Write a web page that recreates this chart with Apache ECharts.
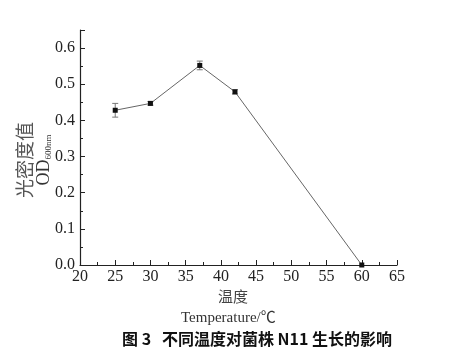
<!DOCTYPE html>
<html><head><meta charset="utf-8">
<script src="https://cdn.jsdelivr.net/npm/echarts@6/dist/echarts.min.js"></script>
<style>html,body{margin:0;padding:0;background:#fff}#c{width:455px;height:354px}</style>
</head><body><div id="c"></div>
<script>
var temperatures = [25, 30, 37, 42, 60];
var odValues = [0.428, 0.447, 0.552, 0.479, 0.0];
var odErrors = [0.019, 0.005, 0.012, 0.006, 0.0];
var xTicks = [20, 25, 30, 35, 40, 45, 50, 55, 60, 65];
var yTicks = [0.0, 0.1, 0.2, 0.3, 0.4, 0.5, 0.6];

var serif = '"Liberation Serif","Times New Roman","Noto Sans CJK SC",serif';
var chart = echarts.init(document.getElementById('c'));
var lineData = temperatures.map(function(t, i){ return [t, odValues[i]]; });
var errData = temperatures.map(function(t, i){ return [t, odValues[i] - odErrors[i], odValues[i] + odErrors[i]]; });

chart.setOption({
  animation: false,
  grid: {left: 80, right: 58, top: 30, bottom: 89},
  xAxis: {
    type: 'value', min: 20, max: 65, interval: 5,
    axisLine: {show: true, onZero: false, lineStyle: {color: '#222', width: 1.2}},
    axisTick: {show: true, inside: true, length: 5, lineStyle: {color: '#222'}},
    minorTick: {show: true, splitNumber: 2, length: 3, lineStyle: {color: '#222'}},
    splitLine: {show: false},
    axisLabel: {color: '#222', fontFamily: serif, fontSize: 16, margin: 4,
      formatter: function(v){ return xTicks.indexOf(v) >= 0 ? String(v) : ''; }}
  },
  yAxis: {
    type: 'value', min: 0, max: 0.65, interval: 0.1,
    axisLine: {show: true, lineStyle: {color: '#222', width: 1.2}},
    axisTick: {show: true, inside: true, length: 5, lineStyle: {color: '#222'}},
    minorTick: {show: true, splitNumber: 2, length: 3, lineStyle: {color: '#222'}},
    splitLine: {show: false},
    axisLabel: {color: '#222', fontFamily: serif, fontSize: 16, margin: 5,
      formatter: function(v){
        for (var i = 0; i < yTicks.length; i++) if (Math.abs(yTicks[i] - v) < 1e-9) return yTicks[i].toFixed(1);
        return '';
      }}
  },
  graphic: [
    {type: 'text', left: 218, top: 289, style: {text: '温度', font: '15px "Noto Sans CJK SC",serif', fill: '#444'}},
    {type: 'text', left: 181, top: 311, style: {text: 'Temperature/℃', font: '15px ' + serif, fill: '#333'}},
    {type: 'text', left: 122, top: 331, style: {text: '图 3   不同温度对菌株 N11 生长的影响', font: 'bold 16px "Noto Sans CJK SC",sans-serif', fill: '#111'}},
    {type: 'text', x: 25, y: 160, rotation: Math.PI / 2,
      style: {text: '光密度值', font: '19px "Noto Sans CJK SC",serif', fill: '#555', align: 'center', verticalAlign: 'middle'}},
    {type: 'text', x: 44, y: 160, rotation: Math.PI / 2,
      style: {text: '{a|OD}{b|600nm}', align: 'center', verticalAlign: 'middle',
        rich: {a: {font: '18px ' + serif, fill: '#333'}, b: {font: '9px ' + serif, fill: '#333', padding: [9, 0, 0, 0]}}}}
  ],
  series: [
    {
      type: 'line', data: lineData, symbol: 'rect', symbolSize: 5,
      lineStyle: {color: '#666', width: 1},
      itemStyle: {color: '#111'}, z: 3
    },
    {
      type: 'custom', data: errData, z: 2,
      renderItem: function(params, api){
        var x = api.value(0);
        var lo = api.coord([x, api.value(1)]);
        var hi = api.coord([x, api.value(2)]);
        if (Math.abs(hi[1] - lo[1]) < 0.5) return null;
        var c = 3;
        var st = {stroke: '#777', lineWidth: 1};
        return {type: 'group', children: [
          {type: 'line', shape: {x1: lo[0], y1: lo[1], x2: hi[0], y2: hi[1]}, style: st},
          {type: 'line', shape: {x1: lo[0] - c, y1: lo[1], x2: lo[0] + c, y2: lo[1]}, style: st},
          {type: 'line', shape: {x1: hi[0] - c, y1: hi[1], x2: hi[0] + c, y2: hi[1]}, style: st}
        ]};
      }
    }
  ]
});
</script></body></html>
